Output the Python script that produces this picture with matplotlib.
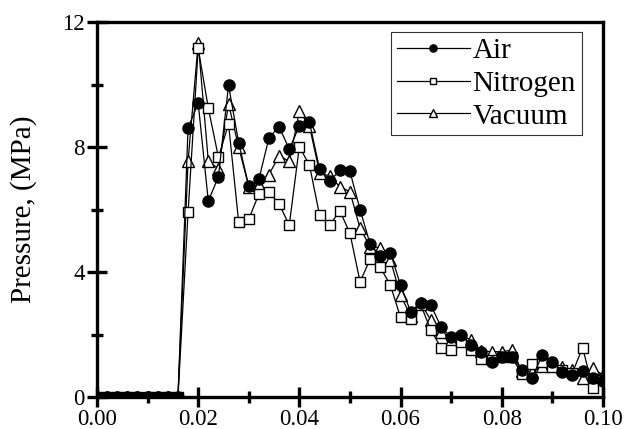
import matplotlib
matplotlib.use('Agg')
import matplotlib.pyplot as plt
from matplotlib.ticker import MultipleLocator

# time, s (sampled every 2 ms)
t = [0.000, 0.002, 0.004, 0.006, 0.008, 0.010, 0.012, 0.014, 0.016, 0.018,
     0.020, 0.022, 0.024, 0.026, 0.028, 0.030, 0.032, 0.034, 0.036, 0.038,
     0.040, 0.042, 0.044, 0.046, 0.048, 0.050, 0.052, 0.054, 0.056, 0.058,
     0.060, 0.062, 0.064, 0.066, 0.068, 0.070, 0.072, 0.074, 0.076, 0.078,
     0.080, 0.082, 0.084, 0.086, 0.088, 0.090, 0.092, 0.094, 0.096, 0.098,
     0.100]

# pressure, MPa
p_air = [0, 0, 0, 0, 0, 0, 0, 0, 0,
         8.62, 9.40, 6.27, 7.05, 9.98, 8.14, 6.75, 6.97, 8.30, 8.65,
         7.93, 8.67, 8.79, 7.30, 6.91, 7.25, 7.22, 6.00, 4.89, 4.51,
         4.62, 3.58, 2.73, 3.02, 2.94, 2.25, 1.91, 1.98, 1.66, 1.45,
         1.12, 1.27, 1.29, 0.86, 0.60, 1.34, 1.13, 0.81, 0.70, 0.84,
         0.60, 0.51]
p_n2 = [0, 0, 0, 0, 0, 0, 0, 0, 0,
        5.91, 11.16, 9.25, 7.67, 8.74, 5.60, 5.69, 6.50, 6.55, 6.18,
        5.50, 8.01, 7.42, 5.82, 5.50, 5.96, 5.24, 3.69, 4.41, 4.15,
        3.58, 2.55, 2.50, 2.95, 2.14, 1.58, 1.52, 1.75, 1.52, 1.22,
        1.20, 1.27, 1.27, 0.74, 1.06, 1.13, 0.95, 0.86, 0.78, 1.58,
        0.30, 0.55]
p_vac = [0, 0, 0, 0, 0, 0, 0, 0, 0,
         7.55, 11.34, 7.55, 7.30, 9.38, 8.00, 6.73, 6.80, 7.12, 7.72,
         7.54, 9.14, 8.67, 7.18, 7.07, 6.73, 6.57, 5.40, 4.81, 4.78,
         4.38, 3.26, 2.60, 3.00, 2.46, 2.09, 1.82, 1.95, 1.83, 1.47,
         1.45, 1.45, 1.50, 0.84, 0.80, 1.00, 1.10, 0.95, 0.86, 0.60,
         0.92, 0.70]

plt.rcParams['font.family'] = 'Liberation Serif'

fig = plt.figure(figsize=(6.26, 4.29), dpi=100)
ax = fig.add_axes([0.155, 0.0746, 0.808, 0.874])

lv, = ax.plot(t, p_vac, '-^', color='black', lw=0.9, ms=8.5, mfc='white',
              mec='black', mew=1.0)
ln, = ax.plot(t, p_n2, '-s', color='black', lw=0.9, ms=7, mfc='white',
              mec='black', mew=1.0)
la, = ax.plot(t, p_air, '-o', color='black', lw=0.9, ms=8, mfc='black',
              mec='black')

ax.set_xlim(0, 0.10)
ax.set_ylim(0, 12)
ax.xaxis.set_major_locator(MultipleLocator(0.02))
ax.xaxis.set_minor_locator(MultipleLocator(0.01))
ax.yaxis.set_major_locator(MultipleLocator(4))
ax.yaxis.set_minor_locator(MultipleLocator(2))
ax.xaxis.set_major_formatter(plt.FormatStrFormatter('%.2f'))

for s in ax.spines.values():
    s.set_linewidth(2.4)
ax.tick_params(which='major', direction='inout', length=14, width=2.4,
               labelsize=16.5, pad=2)
ax.tick_params(which='minor', direction='inout', length=8, width=2.4)
ax.tick_params(top=False, right=False, which='both')

ax.set_ylabel('Pressure, (MPa)', fontsize=21, labelpad=18)

leg = ax.legend([la, ln, lv], ['Air', 'Nitrogen', 'Vacuum'], loc='upper right',
                bbox_to_anchor=(0.97, 0.99), fontsize=21, frameon=True,
                fancybox=False, edgecolor='#333333', framealpha=1,
                markerscale=0.65, handlelength=2.5, handletextpad=0.1,
                labelspacing=0.22, borderpad=0.2, borderaxespad=0.2)
leg.get_frame().set_linewidth(0.8)

fig.savefig('out.png', dpi=100)
